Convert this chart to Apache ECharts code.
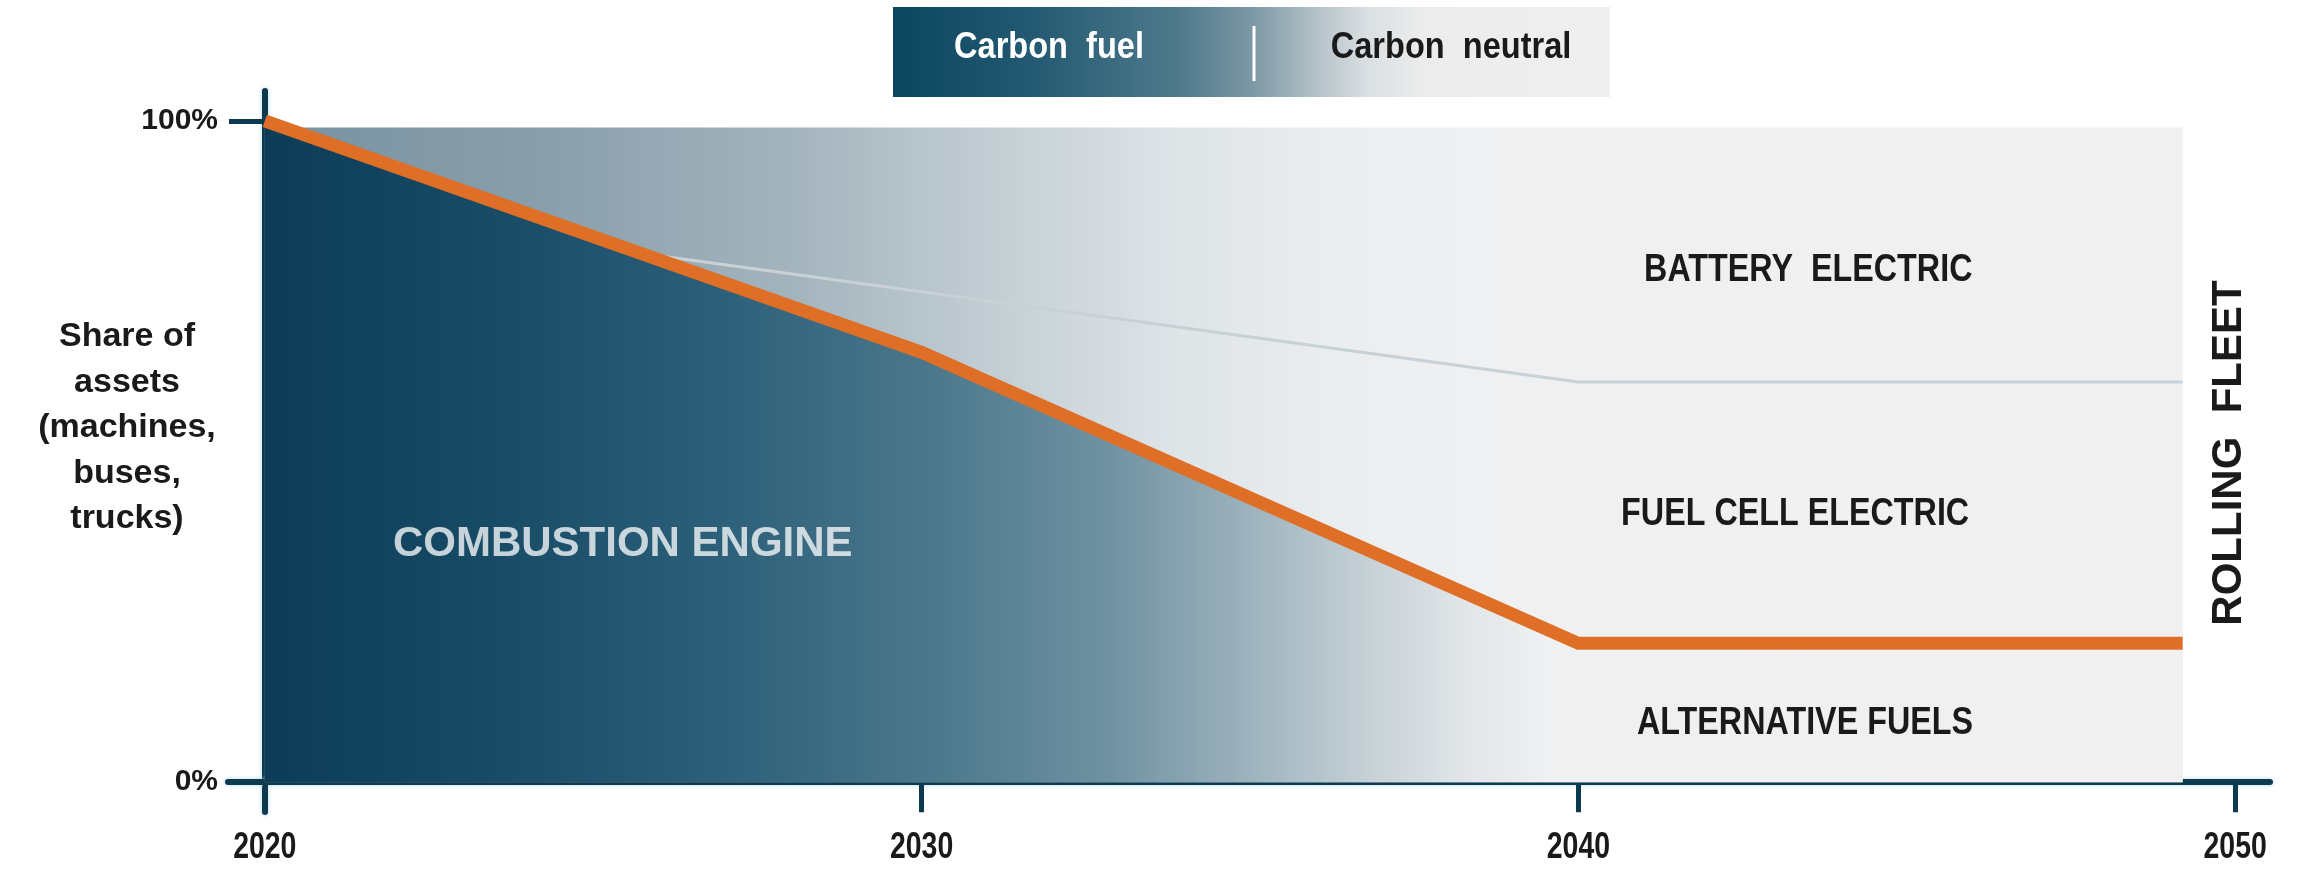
<!DOCTYPE html>
<html>
<head>
<meta charset="utf-8">
<title>Rolling fleet transition</title>
<script src="https://cdn.jsdelivr.net/npm/echarts@6/dist/echarts.min.js"></script>
<style>
  html, body { margin: 0; padding: 0; background: #ffffff; }
  #chart { width: 2310px; height: 870px; }
</style>
</head>
<body>
<div id="chart"></div>
<script>
// ---- data -------------------------------------------------------------
// Share of combustion-engine assets in the fleet (percent)
const combustionYears = [2020, 2030, 2040, 2049.2];
const combustionShare = [100, 65, 21, 21];

// Boundary between battery electric (above) and fuel cell electric (below)
const batteryYears = [2025.7, 2040, 2049.2];
const batteryBoundary = [80, 60.5, 60.5];

// Extent of the rolling fleet band
const fleetYears = [2020, 2049.2];
const fleetShare = [99, 99];

// Axis ticks
const yearTicks = [2020, 2030, 2040, 2050];
const shareTicks = [0, 100];

// Region captions and where they sit (year, share)
const regionNames = ['COMBUSTION ENGINE', 'BATTERY  ELECTRIC', 'FUEL CELL ELECTRIC', 'ALTERNATIVE FUELS'];
const regionYears = [2025.45, 2043.5, 2043.3, 2043.45];
const regionShares = [35.9, 77.3, 40.5, 8.9];

const zip = (xs, ys) => xs.map((x, i) => [x, ys[i]]);

// ---- styles -----------------------------------------------------------
const NAVY = '#0e3a50';
const ORANGE = '#df6f26';
const FONT = '"Liberation Sans", Arial, sans-serif';

const grad = (stops) => new echarts.graphic.LinearGradient(0, 0, 1, 0,
  stops.map(s => ({ offset: s[0], color: s[1] })));

const fleetGradient = grad([
  [0.00, '#7891a0'], [0.15, '#8a9fac'], [0.28, '#a5b5be'],
  [0.38, '#c3ced4'], [0.47, '#dde3e6'], [0.56, '#ebeef0'], [0.64, '#eff0f1'], [1.00, '#f0f0f1']
]);
const combustionGradient = grad([
  [0.00, '#0c3c58'], [0.12, '#174b66'], [0.24, '#2d607a'], [0.35, '#4c788c'],
  [0.44, '#6f92a2'], [0.51, '#9bb1bc'], [0.57, '#c3ced4'], [0.63, '#e3e7e9'],
  [0.67, '#eff0f1'], [1.00, '#f0f0f1']
]);
const legendGradient = grad([
  [0.00, '#0b4660'], [0.20, '#245a72'], [0.40, '#4f7a8c'], [0.50, '#7c98a5'],
  [0.58, '#aebdc4'], [0.66, '#d9dfe2'], [0.74, '#ececec'], [1.00, '#efefef']
]);

const chart = echarts.init(document.getElementById('chart'), null, { renderer: 'canvas' });

chart.setOption({
  animation: false,
  backgroundColor: '#ffffff',
  grid: { left: 228, right: 40, top: 91, bottom: 58, containLabel: false, outerBoundsMode: 'none' },
  xAxis: {
    type: 'value',
    min: 2019.44,
    max: 2050.53,
    splitLine: { show: false },
    axisLine: {
      onZero: true,
      lineStyle: { color: NAVY, width: 6, shadowColor: 'rgba(170,215,235,0.95)', shadowBlur: 4 }
    },
    axisTick: {
      customValues: yearTicks,
      length: 30,
      lineStyle: { color: NAVY, width: 5 }
    },
    // year labels are drawn below in a condensed face
    axisLabel: { show: false }
  },
  yAxis: {
    type: 'value',
    min: -4.5,
    max: 104.5,
    offset: -37,
    splitLine: { show: false },
    axisLine: {
      lineStyle: { color: NAVY, width: 6, shadowColor: 'rgba(170,215,235,0.95)', shadowBlur: 4 }
    },
    axisTick: {
      customValues: shareTicks,
      length: 36,
      lineStyle: { color: NAVY, width: 5 }
    },
    axisLabel: {
      customValues: shareTicks,
      formatter: v => v + '%',
      margin: 47,
      color: '#1a1a1a',
      fontFamily: FONT,
      fontWeight: 'bold',
      fontSize: 30
    }
  },
  series: [
    {
      name: 'Rolling fleet',
      type: 'line',
      data: zip(fleetYears, fleetShare),
      symbol: 'none',
      lineStyle: { width: 0 },
      areaStyle: { color: fleetGradient, opacity: 1, origin: 0 },
      z: 1,
      silent: true
    },
    {
      name: 'Combustion engine',
      type: 'line',
      data: zip(combustionYears, combustionShare),
      symbol: 'none',
      lineStyle: { color: ORANGE, width: 13, join: 'miter', cap: 'butt' },
      areaStyle: { color: combustionGradient, opacity: 1, origin: 0 },
      z: 3,
      silent: true
    },
    {
      name: 'Battery electric',
      type: 'line',
      data: zip(batteryYears, batteryBoundary),
      symbol: 'none',
      lineStyle: { color: '#c7d1d6', width: 3 },
      z: 2,
      silent: true
    },
    {
      name: 'Combustion label',
      type: 'scatter',
      symbolSize: 0,
      silent: true,
      z: 6,
      data: [{ name: regionNames[0], value: [regionYears[0], regionShares[0]] }],
      label: {
        show: true,
        position: 'inside',
        formatter: '{b}',
        color: '#f2f6f8',
        fontFamily: FONT,
        fontWeight: 'bold',
        fontSize: 42
      }
    }
  ]
});

// Condensed captions: placed through the grid's own coordinate mapping
const toPx = (x, y) => chart.convertToPixel({ gridIndex: 0 }, [x, y]);

const captionElements = regionNames.slice(1).map((name, k) => {
  const i = k + 1;
  const p = toPx(regionYears[i], regionShares[i]);
  return {
    type: 'text',
    x: p[0], y: p[1],
    scaleX: 0.85,
    style: {
      text: name, fill: '#1a1a1a', align: 'center', verticalAlign: 'middle',
      font: 'bold 38px ' + FONT
    },
    z: 20
  };
});

// Year labels under the x ticks
const yearLabelElements = yearTicks.map(year => {
  const p = toPx(year, 0);
  return {
    type: 'text',
    x: p[0], y: p[1] + 66,
    scaleX: 0.79,
    style: {
      text: String(year), fill: '#1a1a1a', align: 'center', verticalAlign: 'middle',
      font: 'bold 36px ' + FONT
    },
    z: 20
  };
});

chart.setOption({
  graphic: [
    // carbon fuel / carbon neutral key
    {
      type: 'rect',
      shape: { x: 893, y: 7, width: 717, height: 90 },
      style: { fill: legendGradient },
      z: 10
    },
    {
      type: 'line',
      shape: { x1: 1254, y1: 26, x2: 1254, y2: 81 },
      style: { stroke: '#ffffff', lineWidth: 3 },
      z: 11
    },
    {
      type: 'text',
      x: 1049, y: 48,
      scaleX: 0.88,
      style: {
        text: 'Carbon  fuel', fill: '#ffffff', align: 'center', verticalAlign: 'middle',
        font: 'bold 37px ' + FONT
      },
      z: 11
    },
    {
      type: 'text',
      x: 1451, y: 48,
      scaleX: 0.88,
      style: {
        text: 'Carbon  neutral', fill: '#1a1a1a', align: 'center', verticalAlign: 'middle',
        font: 'bold 37px ' + FONT
      },
      z: 11
    },
    // y axis title
    {
      type: 'text',
      x: 127, y: 428,
      style: {
        text: 'Share of\nassets\n(machines,\nbuses,\ntrucks)',
        fill: '#1a1a1a', align: 'center', verticalAlign: 'middle',
        font: 'bold 34px ' + FONT, lineHeight: 45.5
      },
      z: 11
    },
    // right-hand caption
    {
      type: 'text',
      x: 2229, y: 453,
      rotation: Math.PI / 2,
      style: {
        text: 'ROLLING  FLEET', fill: '#1a1a1a', align: 'center', verticalAlign: 'middle',
        font: 'bold 42px ' + FONT
      },
      z: 11
    }
  ].concat(captionElements, yearLabelElements)
});
</script>
</body>
</html>
